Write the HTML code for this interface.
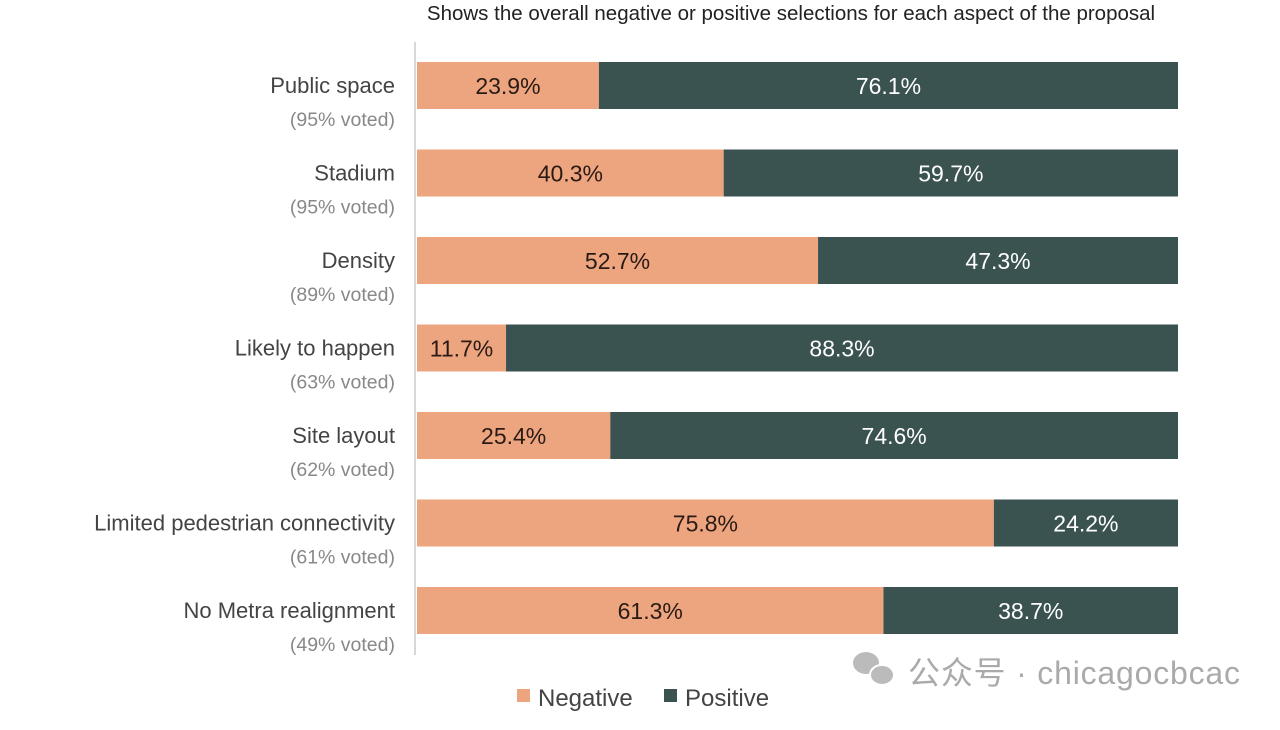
<!DOCTYPE html>
<html><head><meta charset="utf-8"><style>
body{margin:0;background:#fff;width:1280px;height:730px;overflow:hidden;position:relative;font-family:"Liberation Sans","Noto Sans CJK SC",sans-serif}
</style></head><body>
<svg width="1280" height="730" style="position:absolute;left:0;top:0" id="chart">
<text x="791" y="20" text-anchor="middle" font-size="20.5" fill="#222">Shows the overall negative or positive selections for each aspect of the proposal</text>
<line x1="415" y1="42" x2="415" y2="655" stroke="#d8d8d8" stroke-width="2"/>
<g id="bars"></g>
<g>
<rect x="517" y="689" width="13" height="13" fill="#eda57f"/>
<text x="538" y="706" font-size="24" fill="#444">Negative</text>
<rect x="664" y="689" width="13" height="13" fill="#3a5250"/>
<text x="685" y="706" font-size="24" fill="#444">Positive</text>
</g>
<g fill="#bbb">
<ellipse cx="866" cy="663" rx="13" ry="11"/><ellipse cx="882" cy="675" rx="12" ry="10" stroke="#fff" stroke-width="2"/>
<text x="908" y="684" font-size="32" fill="#aaa" textLength="332">公众号 · chicagocbcac</text>
</g>
</svg>
<script>
const categories=["Public space","Stadium","Density","Likely to happen","Site layout","Limited pedestrian connectivity","No Metra realignment"];
const voted=["95%","95%","89%","63%","62%","61%","49%"];
const negative=[23.9,40.3,52.7,11.7,25.4,75.8,61.3];
const positive=[76.1,59.7,47.3,88.3,74.6,24.2,38.7];
const x0=417,x1=1178,top0=62,step=87.5,bh=47;
const xs=v=>x0+(x1-x0)*v/100;
const g=document.getElementById('bars');const NS='http://www.w3.org/2000/svg';
function mk(t,a){const e=document.createElementNS(NS,t);for(const k in a)e.setAttribute(k,a[k]);return e;}
categories.forEach((c,i)=>{
 const y=top0+i*step, tot=negative[i]+positive[i];
 const xn=xs(negative[i]/tot*100);
 const r1=mk('rect',{x:x0,y:y,width:xn-x0,height:bh,fill:'#eda57f'});
 
 g.appendChild(r1);
 const r2=mk('rect',{x:xn,y:y,width:x1-xn,height:bh,fill:'#3a5250'});
 
 g.appendChild(r2);
 const t1=mk('text',{x:(x0+xn)/2,y:y+32,'text-anchor':'middle','font-size':23,fill:'#2a1a14'});t1.textContent=negative[i].toFixed(1)+'%';
 
 g.appendChild(t1);
 const t2=mk('text',{x:(xn+x1)/2,y:y+32,'text-anchor':'middle','font-size':23,fill:'#fff'});t2.textContent=positive[i].toFixed(1)+'%';
 
 g.appendChild(t2);
 const l=mk('text',{x:395,y:y+31,'text-anchor':'end','font-size':22,fill:'#444'});l.textContent=c;
 
 g.appendChild(l);
 const v=mk('text',{x:395,y:y+64,'text-anchor':'end','font-size':19.5,fill:'#888'});v.textContent='('+voted[i]+' voted)';
 
 g.appendChild(v);
});
</script>
</body></html>
